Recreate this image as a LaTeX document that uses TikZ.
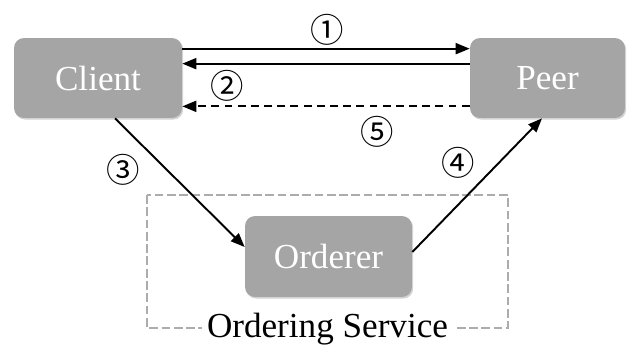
\documentclass[tikz,border=0pt]{standalone}
\usepackage{fontspec}
\setmainfont{Liberation Serif}
\newfontfamily\cjk{Noto Sans CJK SC}
\usetikzlibrary{arrows.meta,shadows}
\definecolor{boxgray}{RGB}{165,165,165}
\definecolor{framegray}{RGB}{172,172,172}
\tikzset{
  gbox/.style={fill=boxgray, rounded corners=0.2cm, text=white,
    font=\fontsize{20}{24}\selectfont,
    drop shadow={shadow xshift=0.7pt, shadow yshift=-0.9pt, opacity=0.35}},
  num/.style={font=\cjk\fontsize{19}{21}\selectfont, inner sep=0pt},
  flow/.style={->, line width=1.1pt},
}
\begin{document}
\begin{tikzpicture}[x=0.02cm, y=-0.02cm, >={Triangle[length=0.28cm,width=0.22cm]}]
	\useasboundingbox (0,0) rectangle (629,345);
	% ordering service frame
	\draw[framegray, line width=1.7pt, dash pattern=on 5pt off 2pt] (147,195) rectangle (508,328);
	\node[fill=white, inner sep=3pt, font=\fontsize{20}{24}\selectfont] (service) at (327.5,329) {Ordering Service};
	% the three parties
	\node[gbox, minimum width=3.36cm, minimum height=1.6cm] (client) at (98,78) {Client};
	\node[gbox, minimum width=3.1cm, minimum height=1.6cm] (peer) at (547.5,78) {Peer};
	\node[gbox, minimum width=3.34cm, minimum height=1.62cm] (orderer) at (328.5,256.5) {Orderer};
	% messages
	\draw[flow] ([yshift=-0.22cm]client.north east) -- ([yshift=-0.22cm]peer.north west);
	\draw[flow] ([yshift=-0.52cm]peer.north west) -- ([yshift=-0.52cm]client.north east);
	\draw[flow, dash pattern=on 4.5pt off 3pt] ([yshift=0.24cm]peer.south west) -- ([yshift=0.24cm]client.south east);
	\draw[flow] ([xshift=0.34cm]client.south) -- ([yshift=0.19cm]orderer.west);
	\draw[flow] ([yshift=0.09cm]orderer.east) -- ([xshift=-0.11cm]peer.south);
	\node[num] (n1) at (327,30) {①};
	\node[num] (n2) at (227,86) {②};
	\node[num] (n3) at (123,170) {③};
	\node[num] (n4) at (458,163) {④};
	\node[num] (n5) at (377,132) {⑤};
\end{tikzpicture}
\end{document}
